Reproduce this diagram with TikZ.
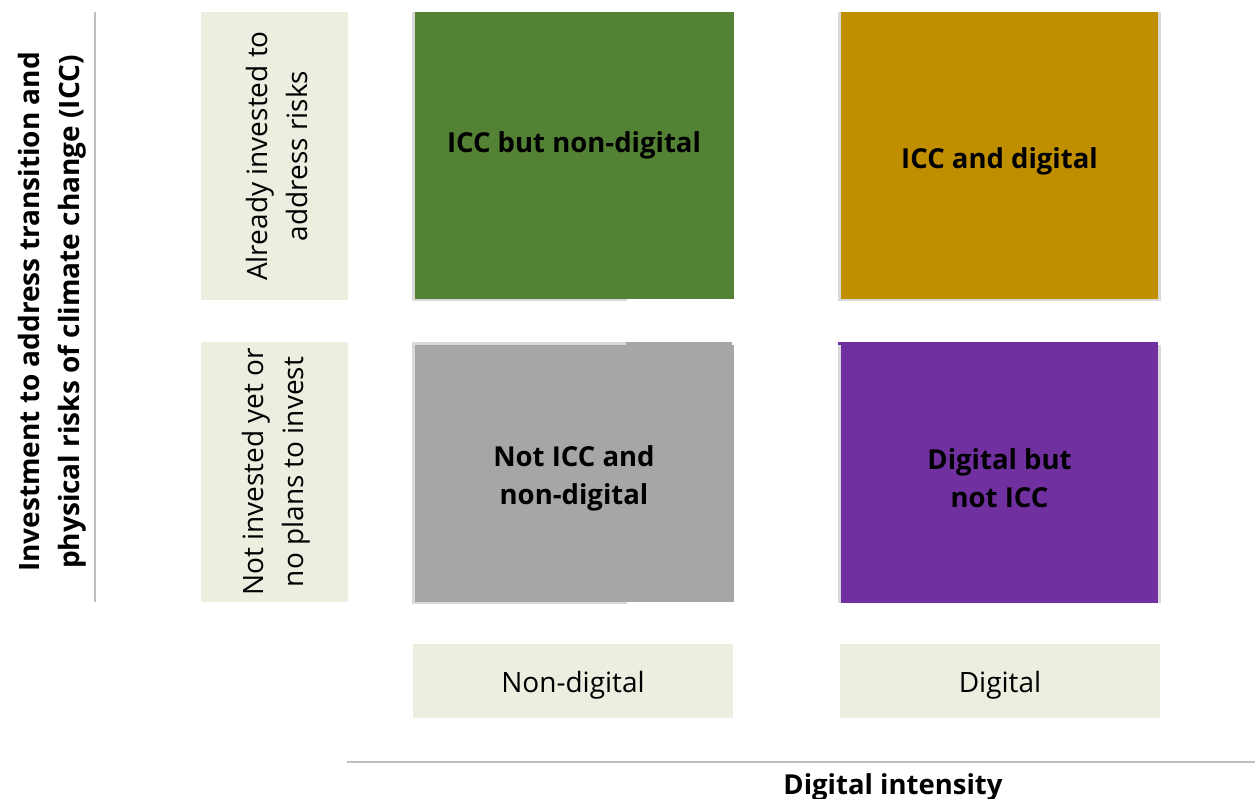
\documentclass[tikz,border=0pt]{standalone}
\usepackage{fontspec}
\setmainfont{Open Sans}
\definecolor{cgreen}{HTML}{548235}
\definecolor{cgold}{HTML}{BF8F00}
\definecolor{cgray}{HTML}{A6A6A6}
\definecolor{cpurple}{HTML}{7030A0}
\definecolor{clabel}{HTML}{EBEFDF}
\definecolor{cedge}{HTML}{D9D9D9}
\definecolor{cline}{HTML}{BFBFBF}
\begin{document}
\begin{tikzpicture}[x=1pt,y=-1pt,
  labelbox/.style={fill=clabel,draw=none,inner sep=0pt,font=\fontsize{28}{40}\selectfont,align=center},
  labeltext/.style={inner sep=0pt,font=\fontsize{28}{40}\selectfont,align=center},
  quad/.style={draw=none,inner sep=0pt,font=\bfseries\fontsize{27.5}{38}\selectfont,align=center,text=black},
  axistitle/.style={font=\bfseries\fontsize{28}{40}\selectfont,align=center,rotate=90},
  axisline/.style={draw=cline,line width=2.5pt},
  edge/.style={fill=cedge,draw=none}]
\useasboundingbox (0,0) rectangle (1255,799);
% left axis
\coordinate (vt) at (95,12);
\coordinate (vb) at (95,602);
\draw[axisline] (vt) -- (vb);
\node[axistitle] (ytitle) at (52,312) {Investment to address transition and\\physical risks of climate change (ICC)};
% bottom axis
\coordinate (hl) at (347,762);
\coordinate (hr) at (1255,762);
\draw[axisline] (hl) -- (hr);
\node[font=\bfseries\fontsize{27.5}{32}\selectfont] (xtitle) at (893,787) {Digital intensity};
% row labels
\node[labelbox,minimum width=147pt,minimum height=288pt] (rtop) at (274.5,156) {};
\node[labeltext,rotate=90] (rtopt) at ([xshift=2pt]rtop.center) {Already invested to\\address risks};
\node[labelbox,minimum width=147pt,minimum height=260pt] (rbot) at (274.5,472) {};
\node[labeltext,rotate=90] (rbott) at ([xshift=2pt]rbot.center) {Not invested yet or\\no plans to invest};
% column labels
\node[labelbox,minimum width=320pt,minimum height=74pt] (cnon) at (573,681) {};
\node[labeltext] (cnont) at ([yshift=-4pt]cnon.center) {Non-digital};
\node[labelbox,minimum width=320pt,minimum height=74pt] (cdig) at (1000,681) {};
\node[labeltext] (cdigt) at ([yshift=-4pt]cdig.center) {Digital};
% edges (light gray borders)
\fill[edge] (412,12) rectangle (627,301);
\fill[edge] (412,342) rectangle (627,604);
\fill[edge] (838,12) rectangle (1161,301);
\fill[edge] (838,345) rectangle (1161,603);
% quadrants
\node[quad,fill=cgreen,minimum width=319pt,minimum height=287pt] (q1) at (574.5,156) {};
\node[quad] (q1t) at (574,145) {ICC but non-digital};
\node[quad,fill=cgold,minimum width=317pt,minimum height=287pt] (q2) at (999.5,156) {};
\node[quad] (q2t) at (999.5,161) {ICC and digital};
\fill[cgray] (415,345) rectangle (734,602);
\fill[cgray] (626,342) rectangle (732,345);
\node[quad,minimum width=319pt,minimum height=260pt] (q3) at (574.5,472) {};
\node[quad] (q3t) at (574,478) {Not ICC and\\non-digital};
\node[quad,fill=cpurple,minimum width=317pt,minimum height=261pt] (q4) at (999.5,472.5) {};
\fill[cpurple] (838,342) rectangle (1158,345);
\node[quad] (q4t) at (999.5,478) {Digital but\\not ICC};
\end{tikzpicture}
\end{document}
